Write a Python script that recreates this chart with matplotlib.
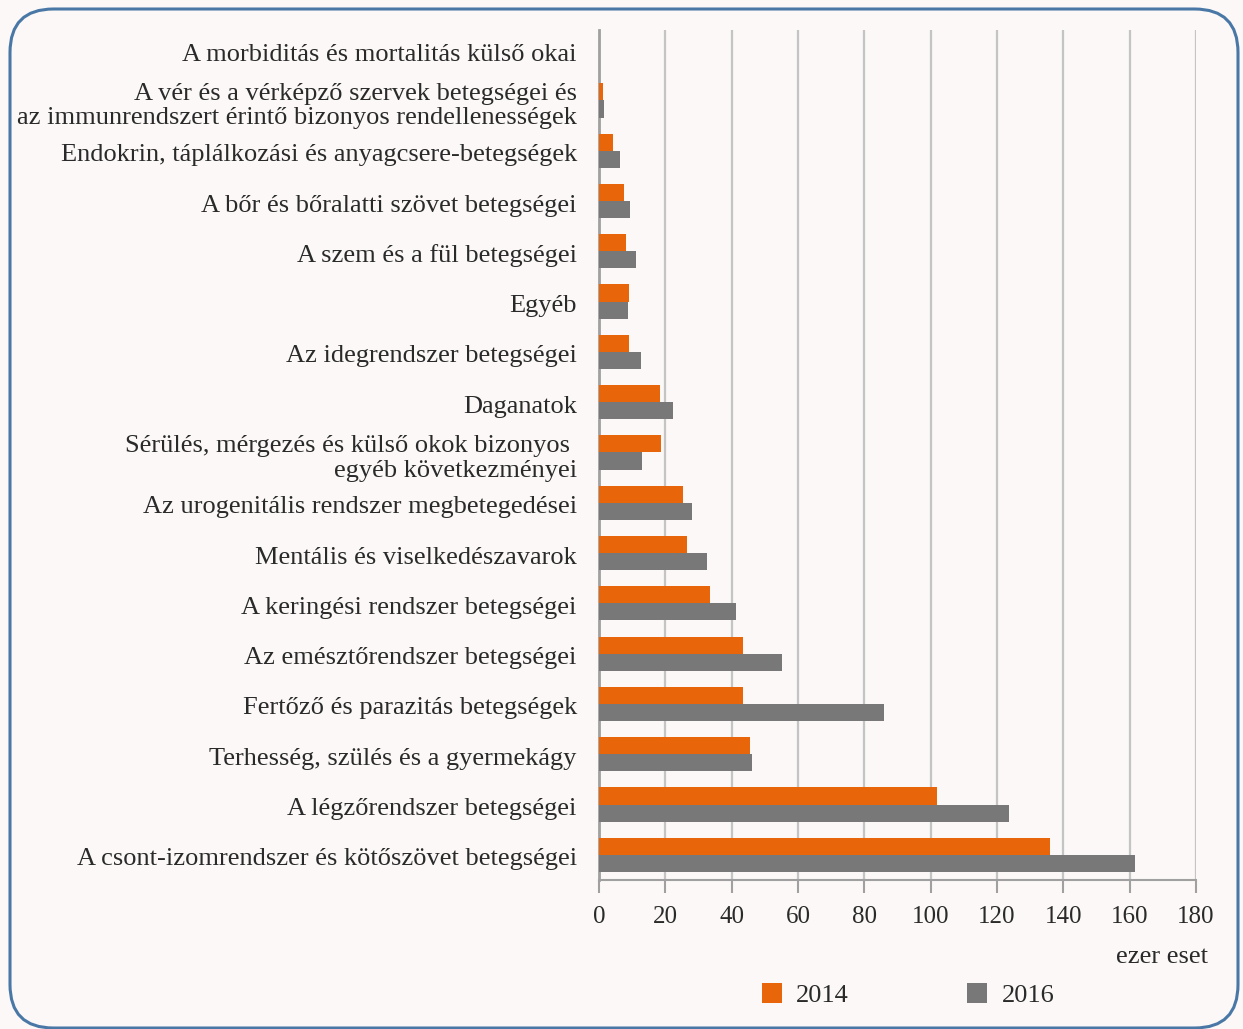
import matplotlib
matplotlib.use("Agg")
import matplotlib.pyplot as plt
from matplotlib.patches import FancyBboxPatch, Patch
import numpy as np

categories = [
    "A morbiditás és mortalitás külső okai",
    "A vér és a vérképző szervek betegségei és\naz immunrendszert érintő bizonyos rendellenességek",
    "Endokrin, táplálkozási és anyagcsere-betegségek",
    "A bőr és bőralatti szövet betegségei",
    "A szem és a fül betegségei",
    "Egyéb",
    "Az idegrendszer betegségei",
    "Daganatok",
    "Sérülés, mérgezés és külső okok bizonyos \negyéb következményei",
    "Az urogenitális rendszer megbetegedései",
    "Mentális és viselkedészavarok",
    "A keringési rendszer betegségei",
    "Az emésztőrendszer betegségei",
    "Fertőző és parazitás betegségek",
    "Terhesség, szülés és a gyermekágy",
    "A légzőrendszer betegségei",
    "A csont-izomrendszer és kötőszövet betegségei",
]
values_2014 = [0, 1.2, 4.3, 7.5, 8.2, 9.0, 9.0, 18.3, 18.7, 25.4, 26.6, 33.4, 43.3, 43.4, 45.4, 101.8, 136.0]
values_2016 = [0, 1.5, 6.2, 9.2, 11.2, 8.7, 12.6, 22.4, 12.9, 28.1, 32.5, 41.3, 55.3, 86.0, 46.0, 123.6, 161.5]
series_labels = ["2014", "2016"]
xticks = [0, 20, 40, 60, 80, 100, 120, 140, 160, 180]
unit_label = "ezer eset"

W, H = 1243, 1029
bg = "#fbf8f7"
orange = "#e8650a"
grey = "#787878"
gridc = "#c4c4c4"
textc = "#2a2a2a"
font = "Liberation Serif"
fs = 19

fig = plt.figure(figsize=(W / 100, H / 100), dpi=100, facecolor=bg)

# rounded border
box = FancyBboxPatch((10 / W, 1 - 1028 / H), (1238 - 10) / W, (1028 - 9) / H,
                     boxstyle="round,pad=0,rounding_size=0.035",
                     transform=fig.transFigure, facecolor="none",
                     edgecolor="#4a78a6", linewidth=2.2, mutation_aspect=W / H)
fig.patches.append(box)

ax = fig.add_axes([599 / W, (H - 880) / H, (1196 - 599) / W, 850 / H])
ax.set_facecolor("none")

y = np.arange(len(categories))
h = 0.34
off = 0.21
ax.barh(y - off, values_2014, height=h, color=orange, label=series_labels[0], zorder=3)
ax.barh(y - off + h, values_2016, height=h, color=grey, label=series_labels[1], zorder=3)

ax.set_xlim(0, 180)
ax.set_ylim(16.46, -0.44)
ax.set_xticks(xticks)
ax.set_xticklabels([str(t) for t in xticks], fontsize=fs - 1, family=font, color=textc)
ax.set_yticks(y)
ax.set_yticklabels(categories, fontsize=fs, family=font, color=textc,
                   linespacing=1.15)
for lbl in ax.get_yticklabels():
    lbl.set_multialignment("right")
ax.tick_params(axis="y", length=0, pad=16)
ax.tick_params(axis="x", length=9, width=1.5, color="#a0a0a0", pad=10)
ax.grid(axis="x", color=gridc, linewidth=1.6, zorder=0)
for s in ["top", "right"]:
    ax.spines[s].set_visible(False)
ax.spines["left"].set_color("#a0a0a0")
ax.spines["left"].set_linewidth(2)
ax.spines["bottom"].set_color("#a0a0a0")
ax.spines["bottom"].set_linewidth(1.5)

fig.text(1208 / W, 1 - 957 / H, unit_label, ha="right", va="center",
         fontsize=fs, family=font, color=textc)

handles = [Patch(facecolor=orange), Patch(facecolor=grey)]
fig.legend(handles, series_labels, loc="center", bbox_to_anchor=(908 / W, 1 - 995 / H),
           ncol=2, frameon=False, handlelength=0.76, handleheight=0.76,
           handletextpad=0.53, columnspacing=4.5,
           prop={"family": font, "size": fs}, labelcolor=textc)

fig.savefig("out.png", dpi=100, facecolor=bg)
